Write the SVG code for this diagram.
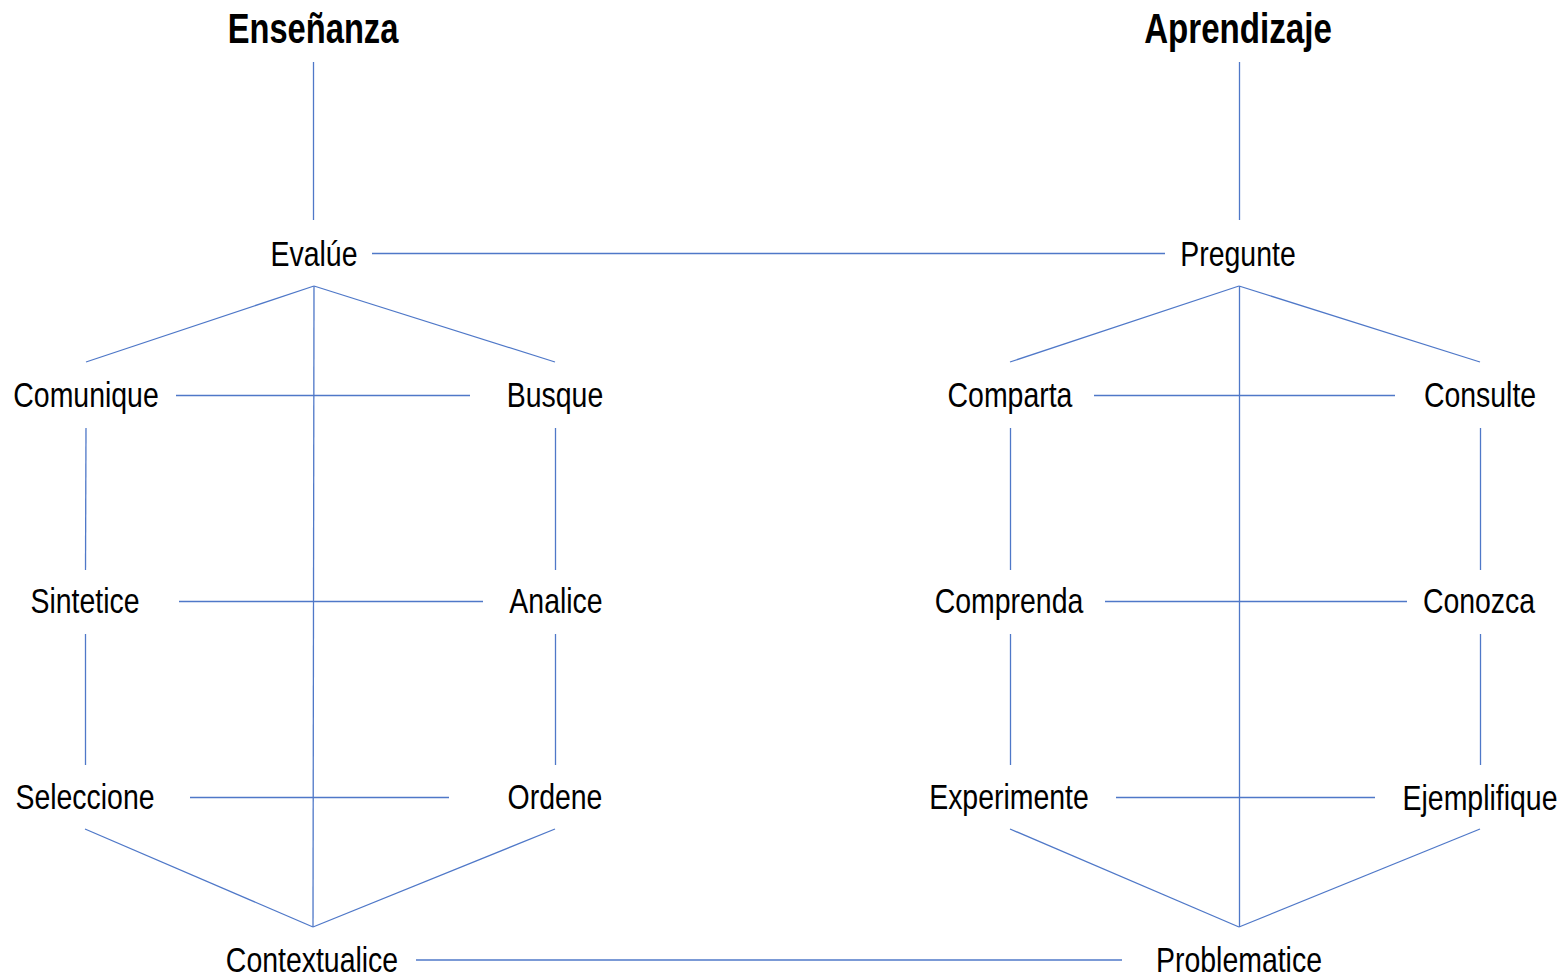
<svg xmlns="http://www.w3.org/2000/svg" width="1566" height="980" viewBox="0 0 1566 980">
<style>
.bg{fill:#ffffff}
.c line{stroke:#4F78C8;stroke-width:1.3;fill:none}
text{font-family:"Liberation Sans",Arial,sans-serif;font-size:36px;fill:#000;text-anchor:middle}
.t{font-weight:bold;font-size:43px}
</style>
<rect class="bg" width="1566" height="980"/>
<g id="connectors" class="c">
<line x1="313.5" y1="62" x2="313.5" y2="220"/>
<line x1="1239.5" y1="62" x2="1239.5" y2="220"/>
<line x1="372" y1="253.5" x2="1165" y2="253.5"/>
<line x1="314" y1="286" x2="86" y2="362"/>
<line x1="314" y1="286" x2="555" y2="362"/>
<line x1="314" y1="286" x2="313" y2="927"/>
<line x1="176" y1="395.5" x2="470" y2="395.5"/>
<line x1="86" y1="428" x2="85.5" y2="570"/>
<line x1="555.5" y1="428" x2="555.5" y2="570"/>
<line x1="179" y1="601.5" x2="483" y2="601.5"/>
<line x1="85.5" y1="634" x2="85.5" y2="765"/>
<line x1="555.5" y1="634" x2="555.5" y2="765"/>
<line x1="190" y1="797.5" x2="449" y2="797.5"/>
<line x1="85" y1="829" x2="313" y2="927"/>
<line x1="555" y1="829" x2="313" y2="927"/>
<line x1="416" y1="960" x2="1122" y2="960"/>
<line x1="1239" y1="286" x2="1010" y2="362"/>
<line x1="1239" y1="286" x2="1480" y2="362"/>
<line x1="1239.5" y1="286" x2="1239.5" y2="927"/>
<line x1="1094" y1="395.5" x2="1395" y2="395.5"/>
<line x1="1010.5" y1="428" x2="1010.5" y2="570"/>
<line x1="1480.5" y1="428" x2="1480.5" y2="570"/>
<line x1="1105" y1="601.5" x2="1407" y2="601.5"/>
<line x1="1010.5" y1="634" x2="1010.5" y2="765"/>
<line x1="1480.5" y1="634" x2="1480.5" y2="765"/>
<line x1="1116" y1="797.5" x2="1375" y2="797.5"/>
<line x1="1010" y1="829" x2="1239" y2="927"/>
<line x1="1480" y1="829" x2="1239" y2="927"/>
</g>
<g id="ensenanza"><text class="t" transform="translate(313,43) scale(0.76,1)">Enseñanza</text></g>
<g id="aprendizaje"><text class="t" transform="translate(1238,43) scale(0.77,1)">Aprendizaje</text></g>
<g id="evalue"><text transform="translate(314,266) scale(0.79,1)">Evalúe</text></g>
<g id="pregunte"><text transform="translate(1238,266) scale(0.79,1)">Pregunte</text></g>
<g id="comunique"><text transform="translate(86,407) scale(0.79,1)">Comunique</text></g>
<g id="busque"><text transform="translate(555,407) scale(0.79,1)">Busque</text></g>
<g id="comparta"><text transform="translate(1010,407) scale(0.79,1)">Comparta</text></g>
<g id="consulte"><text transform="translate(1480,407) scale(0.79,1)">Consulte</text></g>
<g id="sintetice"><text transform="translate(85,613) scale(0.79,1)">Sintetice</text></g>
<g id="analice"><text transform="translate(556,613) scale(0.79,1)">Analice</text></g>
<g id="comprenda"><text transform="translate(1009,613) scale(0.79,1)">Comprenda</text></g>
<g id="conozca"><text transform="translate(1479,613) scale(0.79,1)">Conozca</text></g>
<g id="seleccione"><text transform="translate(85,809) scale(0.79,1)">Seleccione</text></g>
<g id="ordene"><text transform="translate(555,809) scale(0.79,1)">Ordene</text></g>
<g id="experimente"><text transform="translate(1009,809) scale(0.79,1)">Experimente</text></g>
<g id="ejemplifique"><text transform="translate(1480,810) scale(0.79,1)">Ejemplifique</text></g>
<g id="contextualice"><text transform="translate(312,972) scale(0.79,1)">Contextualice</text></g>
<g id="problematice"><text transform="translate(1239,972) scale(0.79,1)">Problematice</text></g>
</svg>
